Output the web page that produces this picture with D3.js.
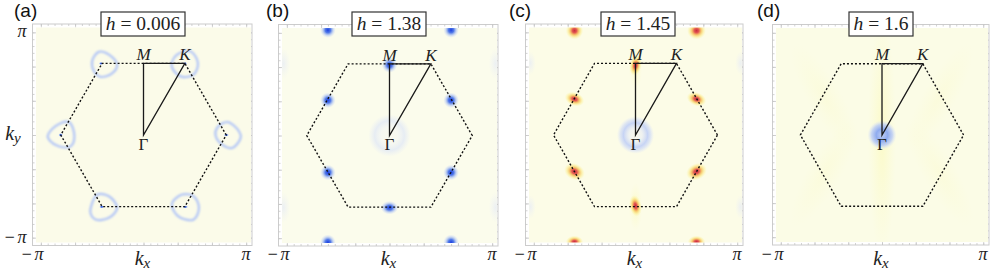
<!DOCTYPE html>
<html lang="en">
  <head>
    <meta charset="utf-8">
    <title>Spectral maps over the Brillouin zone</title>
    <script src="https://d3js.org/d3.v7.min.js"></script>
    <style>
      body { margin: 0; background: #fff; }
      svg { display: block; }
      text { font-family: "Liberation Serif", serif; fill: #222; }
      .letter { font-family: "Liberation Sans", sans-serif; font-size: 19px; fill: #111; }
      .frame .domain { display: none; }
      .frame line { stroke: #c6c6c6; stroke-width: 0.8; }
    </style>
  </head>
  <body>
    <div id="placeHere"></div>
    <script>
      var panelLetters = ["(a)", "(b)", "(c)", "(d)"];
      var fieldLabels = ["0.006", "1.38", "1.45", "1.6"];
      var backgrounds = ["#fbfbe9", "#fbfcec", "#fcfce7", "#fbfce6"];

      // zone corners and the path gamma -> M -> K -> gamma, in units of k
      var hexagon = [[2.418, 0], [1.209, 2.094], [-1.209, 2.094], [-2.418, 0], [-1.209, -2.094], [1.209, -2.094]];
      var path = [[0, 0], [0, 2.094], [1.209, 2.094]];
      var symbols = [["M", 0, 2.19], ["K", 1.209, 2.19], ["Γ", 0, -0.43]];

      // bright contours of panel (a)
      var contourTL = [[-1.50, 2.16], [-1.31, 2.43], [-1.01, 2.35], [-0.77, 2.06], [-0.92, 1.80], [-1.26, 1.70], [-1.45, 1.87]];
      var contourTR = [[0.82, 2.06], [0.98, 2.35], [1.37, 2.45], [1.59, 2.11], [1.47, 1.77], [1.13, 1.70], [0.89, 1.87]];
      var contourR = [[2.15, 0.21], [2.45, 0.38], [2.79, 0.11], [2.84, -0.08], [2.59, -0.38], [2.30, -0.28], [2.11, -0.03]];
      var contourL = [[-2.80, -0.03], [-2.57, 0.26], [-2.18, 0.38], [-2.02, -0.03], [-2.13, -0.33], [-2.48, -0.33], [-2.72, -0.18]];
      var contourBL = [[-1.53, -2.08], [-1.35, -1.74], [-1.01, -1.79], [-0.77, -2.13], [-1.01, -2.42], [-1.40, -2.47], [-1.55, -2.28]];
      var contourBR = [[0.84, -1.98], [1.13, -1.74], [1.47, -1.79], [1.62, -2.13], [1.47, -2.47], [1.08, -2.42], [0.89, -2.23]];
      var contoursA = [contourTL, contourTR, contourR, contourL, contourBL, contourBR];

      // blobs: kx, ky, radius x, radius y, angle, kind
      var blobsA = [
        [-1.24, 2.09, 0.07, 0.05, 0, "blue"], [1.21, 2.09, 0.07, 0.05, 0, "blue"],
        [2.42, 0, 0.08, 0.05, 0, "blue"], [-2.42, 0, 0.07, 0.06, 0, "blue"],
        [-1.22, -2.1, 0.08, 0.05, 0, "blue"], [1.22, -2.1, 0.09, 0.05, 0, "blue"]
      ];
      var blobsB = [
        [0, 0, 0.62, 0.62, 0, "halo"],
        [-3.1, 2.1, 0.2, 0.45, 0, "faint"], [3.1, 2.1, 0.2, 0.45, 0, "faint"],
        [-3.1, -2.1, 0.2, 0.45, 0, "faint"], [3.1, -2.1, 0.2, 0.45, 0, "faint"],
        [-1.8, 3.08, 0.23, 0.23, 0, "blue"], [1.8, 3.08, 0.23, 0.23, 0, "blue"],
        [0, 2.06, 0.23, 0.23, 0, "blue"], [-1.8, 1.03, 0.23, 0.23, 0, "blue"],
        [1.8, 1.03, 0.23, 0.23, 0, "blue"], [-1.8, -1.08, 0.23, 0.23, 0, "blue"],
        [1.8, -1.08, 0.23, 0.23, 0, "blue"], [0, -2.11, 0.26, 0.2, 0, "blue"],
        [-1.8, -3.12, 0.23, 0.23, 0, "blue"], [1.8, -3.12, 0.23, 0.23, 0, "blue"]
      ];
      var blobsC = [
        [0, 0, 0.55, 0.55, 0, "ring"],
        [0, 2.0, 0.2, 0.7, 0, "haze"], [0, -2.1, 0.2, 0.7, 0, "haze"],
        [-3.1, 2.1, 0.16, 0.35, 0, "faint"], [3.1, 2.1, 0.16, 0.35, 0, "faint"],
        [-3.1, -2.1, 0.16, 0.35, 0, "faint"], [3.1, -2.1, 0.16, 0.35, 0, "faint"],
        [-1.8, 3.05, 0.26, 0.26, 0, "hot"], [1.8, 3.05, 0.28, 0.26, 0, "hot"],
        [0, 2.03, 0.18, 0.3, 10, "hot"], [-1.8, 1.05, 0.3, 0.2, 20, "hot"],
        [1.8, 1.05, 0.3, 0.2, 20, "hot"], [-1.8, -1.07, 0.32, 0.24, 25, "hot"],
        [1.8, -1.07, 0.32, 0.24, -25, "hot"], [0, -2.07, 0.18, 0.32, -10, "hot"],
        [-1.8, -3.12, 0.26, 0.18, 0, "hot"], [1.8, -3.12, 0.26, 0.18, 0, "hot"]
      ];
      var blobsD = [
        [0, 0, 0.42, 3.6, 0, "haze"], [1.7, 1.1, 0.5, 1.8, 30, "mist"], [-1.7, 1.1, 0.5, 1.8, -30, "mist"],
        [1.7, -1.1, 0.5, 1.8, -30, "mist"], [-1.7, -1.1, 0.5, 1.8, 30, "mist"],
        [0, 0, 0.43, 0.43, 0, "core"]
      ];
      var panelBlobs = [blobsA, blobsB, blobsC, blobsD];
      var panelContours = [contoursA, [], [], []];

      // tick values shared by all frames
      var minorTicks = d3.range(-15, 16).map(function(d) { return d / 5; });
      var majorTicks = [-3, -2, -1, 0, 1, 2, 3];

      // layout: plot box of each panel and title box widths
      var w = 997;
      var h = 273;
      var boxes = [
        {left: 36, right: 251, top: 27.5, bottom: 242.5, letter: 14, title: 143, titleW: 84},
        {left: 282, right: 497, top: 28, bottom: 243, letter: 266, title: 389, titleW: 74},
        {left: 529, right: 742, top: 27.5, bottom: 242.5, letter: 509, title: 638, titleW: 74},
        {left: 776, right: 988, top: 28, bottom: 242, letter: 757, title: 881, titleW: 64}
      ];

      var svg = d3.select("#placeHere").append("svg").attr("width", w).attr("height", h);
      var defs = svg.append("defs");

      function gradient(id, stops) {
        var g = defs.append("radialGradient").attr("id", id);
        stops.forEach(function(s) {
          g.append("stop").attr("offset", s[0]).attr("stop-color", s[1]).attr("stop-opacity", s[2]);
        });
      }
      gradient("blue", [[0, "#1c3fe0", 1], [0.35, "#3f6ce8", 0.9], [0.7, "#9db6f4", 0.45], [1, "#c8d6fa", 0]]);
      gradient("hot", [[0, "#c92c3e", 1], [0.25, "#e2504a", 0.95], [0.5, "#f5b94a", 0.75], [0.75, "#fbe97a", 0.45], [1, "#fcf6a8", 0]]);
      gradient("halo", [[0, "#f4f5f4", 0.3], [0.4, "#eef1f8", 0.4], [0.7, "#d6e0f9", 0.55], [1, "#dfe6fb", 0]]);
      gradient("ring", [[0, "#f4f5f2", 0.5], [0.35, "#e6ebf6", 0.6], [0.65, "#c0cff6", 0.9], [0.82, "#cdd9f8", 0.6], [1, "#dfe6fb", 0]]);
      gradient("core", [[0, "#c0cff5", 1], [0.4, "#8fabef", 1], [0.72, "#b8caf6", 0.8], [1, "#dbe4fb", 0]]);
      gradient("faint", [[0, "#e6ebf6", 0.7], [1, "#eceff5", 0]]);
      gradient("haze", [[0, "#fbf9b4", 0.6], [1, "#fcfbc8", 0]]);
      gradient("mist", [[0, "#fbf9c0", 0.28], [1, "#fcfbc8", 0]]);

      var soft = defs.append("filter").attr("id", "soft")
                     .attr("x", "-30%").attr("y", "-30%").attr("width", "160%").attr("height", "160%");
      soft.append("feGaussianBlur").attr("stdDeviation", 0.8);

      boxes.forEach(function(b, i) {
        var x = d3.scaleLinear().domain([-Math.PI, Math.PI]).range([b.left, b.right]);
        var y = d3.scaleLinear().domain([-Math.PI, Math.PI]).range([b.bottom, b.top]);
        var g = svg.append("g").attr("class", "panel");
        var clipId = "clip" + i;
        defs.append("clipPath").attr("id", clipId).append("rect")
            .attr("x", b.left).attr("y", b.top)
            .attr("width", b.right - b.left).attr("height", b.bottom - b.top);

        // outer frame and ticks
        var frame = g.append("g").attr("class", "frame");
        var frameLeft = b.left - 3.5, frameRight = b.right + 1, frameTop = b.top - 3.5, frameBottom = b.bottom + 3;
        frame.append("rect")
             .attr("x", frameLeft).attr("y", frameTop)
             .attr("width", frameRight - frameLeft).attr("height", frameBottom - frameTop)
             .attr("fill", "#fff").attr("stroke", "#cccccc").attr("stroke-width", 1);
        [[d3.axisBottom(x), 0, frameTop, minorTicks, 2], [d3.axisBottom(x), 0, frameTop, majorTicks, 3.5],
         [d3.axisTop(x), 0, frameBottom, minorTicks, 2], [d3.axisTop(x), 0, frameBottom, majorTicks, 3.5],
         [d3.axisRight(y), frameLeft, 0, minorTicks, 2], [d3.axisRight(y), frameLeft, 0, majorTicks, 3.5],
         [d3.axisLeft(y), frameRight, 0, minorTicks, 2], [d3.axisLeft(y), frameRight, 0, majorTicks, 3.5]
        ].forEach(function(a) {
          frame.append("g").attr("transform", "translate(" + a[1] + "," + a[2] + ")")
               .call(a[0].tickValues(a[3]).tickSize(a[4]).tickFormat(""));
        });

        // density map
        g.append("rect")
         .attr("x", b.left).attr("y", b.top)
         .attr("width", b.right - b.left).attr("height", b.bottom - b.top)
         .attr("fill", backgrounds[i]);

        var map = g.append("g").attr("clip-path", "url(#" + clipId + ")");
        map.selectAll("ellipse").data(panelBlobs[i]).enter().append("ellipse")
           .attr("cx", function(d) { return x(d[0]); })
           .attr("cy", function(d) { return y(d[1]); })
           .attr("rx", function(d) { return x(d[2]) - x(0); })
           .attr("ry", function(d) { return y(0) - y(d[3]); })
           .attr("transform", function(d) { return "rotate(" + d[4] + " " + x(d[0]) + " " + y(d[1]) + ")"; })
           .attr("fill", function(d) { return "url(#" + d[5] + ")"; });

        var loop = d3.line()
                     .x(function(d) { return x(d[0]); })
                     .y(function(d) { return y(d[1]); })
                     .curve(d3.curveCatmullRomClosed.alpha(0.5));
        map.selectAll("path.contour").data(panelContours[i]).enter().append("path")
           .attr("class", "contour")
           .attr("d", loop)
           .attr("fill", "none")
           .attr("stroke", "#b0c4f7")
           .attr("stroke-width", 2.2)
           .attr("filter", "url(#soft)");

        // zone boundary and high symmetry path
        var straight = d3.line()
                         .x(function(d) { return x(d[0]); })
                         .y(function(d) { return y(d[1]); })
                         .curve(d3.curveLinearClosed);
        g.append("path").attr("d", straight(hexagon))
         .attr("fill", "none").attr("stroke", "#111").attr("stroke-width", 1.4).attr("stroke-dasharray", "2 2");
        g.append("path").attr("d", straight(path))
         .attr("fill", "none").attr("stroke", "#1a1a1a").attr("stroke-width", 1.3);

        g.selectAll("text.symbol").data(symbols).enter().append("text")
         .attr("class", "symbol")
         .attr("x", function(d) { return x(d[1]); })
         .attr("y", function(d) { return y(d[2]); })
         .attr("text-anchor", "middle")
         .attr("font-size", "17px")
         .attr("font-style", function(d) { return d[0] === "Γ" ? "normal" : "italic"; })
         .text(function(d) { return d[0]; });

        // title box
        g.append("rect")
         .attr("x", b.title - b.titleW / 2).attr("y", 12)
         .attr("width", b.titleW).attr("height", 24)
         .attr("fill", "#fff").attr("stroke", "#333").attr("stroke-width", 1.2);
        var title = g.append("text")
                     .attr("x", b.title).attr("y", 30)
                     .attr("text-anchor", "middle").attr("font-size", "19.5px");
        title.append("tspan").attr("font-style", "italic").text("h");
        title.append("tspan").text(" = " + fieldLabels[i]);

        g.append("text").attr("class", "letter").attr("x", b.letter).attr("y", 17).text(panelLetters[i]);

        // axis labels
        g.append("text").attr("x", x(-Math.PI) - 3).attr("y", 260).attr("text-anchor", "middle")
         .attr("font-size", "18px").attr("font-style", "italic").attr("letter-spacing", "2px").text("−π");
        g.append("text").attr("x", x(Math.PI) - 5).attr("y", 260).attr("text-anchor", "middle")
         .attr("font-size", "18px").attr("font-style", "italic").text("π");
        var kx = g.append("text").attr("x", x(0) - 1).attr("y", 265).attr("text-anchor", "middle")
                  .attr("font-size", "20px").attr("font-style", "italic");
        kx.append("tspan").text("k");
        kx.append("tspan").attr("dy", 3).attr("font-size", "15px").text("x");

        if (i === 0) {
          g.append("text").attr("x", 22).attr("y", 37).attr("text-anchor", "middle")
           .attr("font-size", "18px").attr("font-style", "italic").text("π");
          g.append("text").attr("x", 16).attr("y", 243).attr("text-anchor", "middle")
           .attr("font-size", "18px").attr("font-style", "italic").attr("letter-spacing", "2px").text("−π");
          var ky = g.append("text").attr("x", 13).attr("y", 140).attr("text-anchor", "middle")
                    .attr("font-size", "20px").attr("font-style", "italic");
          ky.append("tspan").text("k");
          ky.append("tspan").attr("dy", 3).attr("font-size", "15px").text("y");
        }
      });
    </script>
  </body>
</html>
